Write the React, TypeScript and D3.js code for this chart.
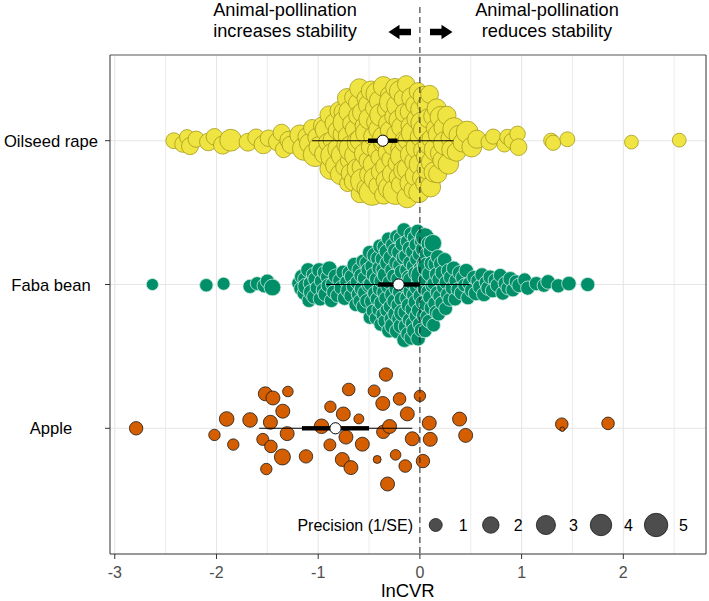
import React from "react";
import * as d3 from "d3";

// ---------------- data ----------------
const crops = ["Oilseed rape", "Faba bean", "Apple"];

// [lnCVR, precision (1/SE)]
const oilseedRape: [number, number][] = [
  [-2.42,1.8],[-2.33,2.0],[-2.29,1.5],[-2.26,2.2],[-2.20,1.9],[-2.08,2.4],[-2.02,2.0],[-1.94,2.6],[-1.86,4.2],[-1.69,2.5],[-1.61,2.1],[-1.54,2.7],[-1.49,2.0],[-1.40,2.6],[-1.36,2.2],[-1.34,2.0],[-1.29,2.4],[-1.27,2.3],
  [-1.18,3.4],[-1.14,4.8],[-1.11,2.6],
  [-1.09,3.0],[-1.06,2.2],[-1.03,5.2],[-1.01,2.8],
  [-0.99,3.6],[-0.96,2.4],[-0.94,3.1],[-0.92,4.4],[-0.905,2.7],
  [-0.895,2.5],[-0.88,3.8],[-0.87,2.1],[-0.85,6.2],[-0.84,2.9],[-0.83,3.3],[-0.815,2.4],[-0.80,4.0],
  [-0.795,2.6],[-0.78,3.5],[-0.77,2.2],[-0.76,4.6],[-0.75,3.0],[-0.74,2.5],[-0.735,5.4],[-0.725,2.8],[-0.715,3.2],[-0.71,1.9],[-0.70,3.7],
  [-0.695,2.4],[-0.69,4.1],[-0.68,3.0],[-0.67,2.6],[-0.665,6.8],[-0.655,2.3],[-0.645,3.4],[-0.64,2.9],[-0.63,4.5],[-0.62,2.1],[-0.615,3.6],[-0.61,2.7],[-0.60,5.0],
  [-0.595,3.1],[-0.59,2.4],[-0.58,4.2],[-0.575,2.8],[-0.565,3.3],[-0.56,5.8],[-0.55,2.5],[-0.54,3.9],[-0.535,2.2],[-0.525,3.0],[-0.52,4.7],[-0.51,2.6],[-0.505,3.5],[-0.50,2.9],
  [-0.495,4.0],[-0.485,2.7],[-0.48,3.2],[-0.47,6.4],[-0.465,2.5],[-0.455,3.8],[-0.45,2.3],[-0.44,4.4],[-0.43,3.0],[-0.425,2.6],[-0.415,5.1],[-0.41,2.8],[-0.405,3.4],[-0.40,2.1],
  [-0.395,3.7],[-0.385,2.9],[-0.38,4.8],[-0.37,2.4],[-0.36,3.3],[-0.355,2.7],[-0.345,5.6],[-0.34,3.1],[-0.33,2.5],[-0.325,4.1],[-0.315,2.8],[-0.31,3.6],[-0.305,2.2],[-0.30,4.3],
  [-0.295,3.0],[-0.285,2.6],[-0.28,5.3],[-0.27,3.4],[-0.26,2.3],[-0.255,3.9],[-0.245,2.8],[-0.24,6.0],[-0.23,3.2],[-0.225,2.5],[-0.215,4.6],[-0.21,2.9],[-0.205,3.5],[-0.20,2.4],
  [-0.195,4.0],[-0.19,2.7],[-0.18,3.3],[-0.17,5.5],[-0.165,2.5],[-0.155,3.8],[-0.15,2.9],[-0.14,4.4],[-0.135,2.3],[-0.125,3.6],[-0.12,3.0],[-0.11,4.9],[-0.105,2.6],[-0.10,3.2],
  [-0.095,2.8],[-0.085,4.2],[-0.08,3.4],[-0.07,2.4],[-0.065,5.2],[-0.055,3.0],[-0.05,2.6],[-0.04,3.9],[-0.035,2.9],[-0.025,4.6],[-0.02,2.3],[-0.01,3.5],[-0.005,2.7],[0.00,4.0],
  [0.005,3.1],[0.015,2.5],[0.02,4.4],[0.03,2.8],[0.035,3.6],[0.045,2.4],[0.05,5.0],[0.06,3.0],[0.065,2.6],[0.075,3.8],[0.08,2.9],[0.09,4.3],[0.095,2.5],
  [0.105,3.4],[0.11,2.7],[0.12,4.1],[0.13,2.9],[0.14,3.5],[0.15,2.4],[0.155,4.7],[0.165,3.0],[0.175,2.6],[0.185,3.7],[0.195,2.8],
  [0.205,4.0],[0.22,2.9],[0.235,3.3],[0.25,5.2],[0.265,2.7],[0.28,3.6],[0.295,2.5],
  [0.31,3.1],[0.335,4.5],[0.36,2.8],[0.385,3.4],
  [0.42,2.9],[0.465,4.2],
  [0.51,3.3],[0.56,2.6],
  [0.68,1.9],[0.72,1.6],[0.83,1.5],[0.86,1.6],[0.90,1.5],[0.96,1.7],[0.97,2.1],
  [1.29,1.5],[1.31,1.6],[1.45,1.5],[2.08,1.2],[2.55,1.2],
];

const fabaBean: [number, number][] = [
  [-2.63,0.8],[-2.10,1.1],[-1.93,1.0],[-1.67,1.3],[-1.60,1.2],[-1.53,1.4],[-1.50,1.3],[-1.45,2.1],
  [-1.19,1.3],[-1.17,1.3],[-1.16,1.5],[-1.14,1.2],[-1.13,1.4],[-1.12,2.0],[-1.10,1.4],
  [-1.09,1.3],[-1.08,1.2],[-1.07,1.6],[-1.05,1.2],[-1.04,1.5],[-1.03,1.4],[-1.01,1.3],
  [-0.99,1.5],[-0.98,1.3],[-0.97,1.2],[-0.95,1.3],[-0.94,1.2],[-0.93,1.4],[-0.91,1.2],
  [-0.90,1.4],[-0.89,1.6],[-0.87,1.3],[-0.86,1.2],[-0.85,1.2],[-0.83,1.4],[-0.81,1.3],
  [-0.79,1.2],[-0.77,1.5],[-0.755,1.3],[-0.74,1.4],[-0.72,1.2],[-0.705,1.6],
  [-0.695,1.3],[-0.68,1.2],[-0.67,1.5],[-0.655,1.3],[-0.64,1.7],[-0.63,1.2],[-0.615,1.4],[-0.605,1.3],
  [-0.595,1.5],[-0.59,1.2],[-0.58,1.3],[-0.57,1.6],[-0.56,1.2],[-0.555,1.4],[-0.545,1.3],[-0.535,1.8],[-0.525,1.2],[-0.52,1.4],[-0.51,1.3],[-0.50,1.5],
  [-0.495,1.3],[-0.49,1.2],[-0.48,1.6],[-0.475,1.3],[-0.47,1.4],[-0.46,1.2],[-0.455,1.5],[-0.445,1.3],[-0.44,2.0],[-0.43,1.2],[-0.425,1.4],[-0.42,1.3],[-0.41,1.6],[-0.405,1.2],[-0.40,1.4],
  [-0.397,1.3],[-0.39,1.5],[-0.385,1.2],[-0.38,1.4],[-0.375,1.7],[-0.37,1.3],[-0.365,1.2],[-0.36,1.5],[-0.355,1.3],[-0.35,1.4],[-0.345,1.2],[-0.34,1.9],[-0.335,1.3],[-0.33,1.4],[-0.325,1.2],[-0.32,1.6],[-0.315,1.3],[-0.31,1.2],[-0.303,1.5],
  [-0.298,1.4],[-0.293,1.2],[-0.288,1.6],[-0.283,1.3],[-0.278,1.2],[-0.273,1.5],[-0.268,1.3],[-0.263,2.2],[-0.258,1.2],[-0.253,1.4],[-0.248,1.3],[-0.243,1.5],[-0.238,1.2],[-0.233,1.4],[-0.228,1.3],[-0.223,1.7],[-0.218,1.2],[-0.213,1.4],[-0.208,1.3],[-0.204,1.5],[-0.200,1.2],
  [-0.198,1.4],[-0.192,1.3],[-0.188,1.6],[-0.183,1.2],[-0.179,1.5],[-0.174,1.3],[-0.17,2.4],[-0.166,1.2],[-0.161,1.4],[-0.157,1.3],[-0.152,1.6],[-0.148,1.2],[-0.144,1.4],[-0.139,1.3],[-0.135,1.8],[-0.131,1.2],[-0.126,1.5],[-0.122,1.3],[-0.117,1.4],[-0.113,1.2],[-0.109,1.6],[-0.104,1.3],[-0.101,1.4],
  [-0.097,1.3],[-0.093,1.5],[-0.089,1.2],[-0.085,1.4],[-0.08,2.6],[-0.076,1.3],[-0.072,1.2],[-0.068,1.6],[-0.064,1.3],[-0.06,1.4],[-0.056,1.2],[-0.051,1.9],[-0.047,1.3],[-0.043,1.5],[-0.039,1.2],[-0.035,1.4],[-0.031,1.3],[-0.027,1.7],[-0.022,1.2],[-0.018,1.4],[-0.014,1.3],[-0.01,1.5],[-0.006,1.2],[-0.002,1.4],
  [0.003,1.3],[0.007,1.6],[0.012,1.2],[0.016,1.4],[0.021,4.5],[0.025,1.3],[0.03,1.5],[0.034,1.2],[0.039,1.4],[0.043,1.3],[0.048,2.8],[0.052,1.2],[0.057,1.5],[0.061,1.3],[0.066,1.4],[0.07,1.2],[0.075,3.6],[0.079,1.3],[0.084,1.4],[0.088,1.2],[0.093,1.6],[0.097,1.3],
  [0.103,1.4],[0.109,1.2],[0.115,1.5],[0.121,1.3],[0.128,2.3],[0.134,1.2],[0.14,1.4],[0.147,1.3],[0.153,1.6],[0.159,1.2],[0.165,1.4],[0.172,1.3],[0.178,1.5],[0.184,1.2],[0.19,1.4],[0.196,1.3],
  [0.205,1.4],[0.215,1.2],[0.224,1.6],[0.234,1.3],[0.243,1.4],[0.253,1.2],[0.262,1.5],[0.272,1.3],[0.281,1.4],[0.292,1.2],
  [0.305,1.5],[0.318,1.3],[0.332,1.4],[0.346,1.2],[0.36,1.6],[0.375,1.3],[0.39,1.4],
  [0.408,1.3],[0.424,1.5],[0.44,1.2],[0.456,1.4],[0.472,1.3],[0.49,1.5],
  [0.51,1.4],[0.53,1.2],[0.55,1.5],[0.57,1.3],[0.59,1.4],
  [0.61,1.3],[0.63,1.5],[0.65,1.2],[0.67,1.4],[0.69,1.3],
  [0.715,1.4],[0.74,1.3],[0.765,1.5],[0.79,1.2],
  [0.815,1.3],[0.84,1.4],[0.865,1.2],[0.89,1.5],
  [0.915,1.3],[0.945,1.2],[0.975,1.4],
  [1.03,1.2],[1.06,1.3],
  [1.145,1.3],[1.22,1.2],[1.26,1.4],[1.36,1.3],[1.465,1.4],[1.65,1.3],
];

const apple: [number, number][] = [
  [-2.79,1.1],[-2.02,0.66],[-1.90,1.42],[-1.835,0.66],[-1.67,1.42],[-1.545,0.78],[-1.52,1.25],[-1.51,0.66],
  [-1.47,1.25],[-1.465,0.91],[-1.445,1.25],[-1.352,1.84],[-1.348,1.25],[-1.305,1.25],[-1.298,0.51],[-1.12,1.1],
  [-0.967,1.42],[-0.885,0.78],[-0.88,0.66],[-0.763,1.25],[-0.753,1.25],[-0.727,1.25],[-0.70,0.91],[-0.678,1.25],
  [-0.60,0.41],[-0.566,1.25],[-0.45,0.78],[-0.42,0.16],[-0.365,1.25],[-0.36,1.1],[-0.334,1.1],[-0.318,1.25],
  [-0.298,1.25],[-0.239,0.51],[-0.20,0.91],[-0.144,0.91],[-0.124,1.25],[-0.075,1.25],[0.0,0.66],[0.03,1.1],
  [0.092,1.25],[0.102,1.25],[0.39,1.25],[0.45,1.25],[1.395,0.91],[1.40,0.0],[1.85,0.91],
];

// meta-analytic estimate, thick and thin intervals
const summaryMean = [-0.365, -0.21, -0.83];
const summaryInnerLow = [-0.51, -0.41, -1.16];
const summaryInnerHigh = [-0.22, 0.0, -0.5];
const summaryOuterLow = [-1.06, -0.92, -1.58];
const summaryOuterHigh = [0.33, 0.49, -0.075];

const xTicks = [-3, -2, -1, 0, 1, 2];
const xMinorTicks = [-2.5, -1.5, -0.5, 0.5, 1.5, 2.5];
const legendBreaks = [1, 2, 3, 4, 5];

// ---------------- styles ----------------
const FONT = "'Liberation Sans', Arial, Helvetica, sans-serif";
const fills = ["#F0E442", "#008F68", "#D55E00"];
const strokes = ["#A39A1E", "#CDEBDF", "#1a1a1a"];

// ---------------- quasirandom (ggbeeswarm-like) ----------------
function vanDerCorput(n: number): number[] {
  const out: number[] = [];
  for (let i = 1; i <= n; i++) {
    let k = i, denom = 1, v = 0;
    while (k > 0) { denom *= 2; v += (k % 2) / denom; k = Math.floor(k / 2); }
    out.push(v);
  }
  return out;
}

function quasirandomOffsets(values: number[], width: number): number[] {
  const n = values.length;
  const sorted = values.slice().sort((a, b) => a - b);
  const sd = d3.deviation(values) ?? 1;
  const iqr = (d3.quantileSorted(sorted, 0.75) ?? 0) - (d3.quantileSorted(sorted, 0.25) ?? 0);
  let lo = Math.min(sd, iqr / 1.34);
  if (!(lo > 0)) lo = sd > 0 ? sd : 1;
  const bw = 0.9 * lo * Math.pow(n, -0.2) * 0.5;
  const dens = (x: number) => {
    let s = 0;
    for (const v of values) { const z = (x - v) / bw; s += Math.exp(-0.5 * z * z); }
    return s;
  };
  const gMin = sorted[0] - 3 * bw, gMax = sorted[n - 1] + 3 * bw;
  let maxD = 0;
  for (let i = 0; i < 512; i++) maxD = Math.max(maxD, dens(gMin + ((gMax - gMin) * i) / 511));
  const order = d3.range(n).sort((a, b) => values[a] - values[b] || a - b);
  const rank: number[] = new Array(n);
  order.forEach((idx, r) => { rank[idx] = r; });
  const vdc = vanDerCorput(n);
  return values.map((v, i) => (vdc[rank[i]] - 0.5) * 2 * (dens(v) / maxD) * width);
}

// ---------------- component ----------------
export default function App() {
  const W = 709, H = 601;
  const P = { left: 110, right: 706, top: 55, bottom: 554 };
  const x = d3.scaleLinear().domain([-3.047, 2.813]).range([P.left, P.right]);
  const y = d3.scalePoint<string>().domain(crops).range([140.7, 428.3]);
  const size = d3.scaleSqrt().domain([0, 5]).range([2.3, 11.7]);
  const halfWidth = 0.4 * y.step();
  const series = [oilseedRape, fabaBean, apple];

  const pts = series.map((s, i) => {
    const vals = s.map((d) => d[0]);
    const off = quasirandomOffsets(vals, halfWidth);
    return s.map((d, j) => ({ cx: x(d[0]), cy: (y(crops[i]) as number) - off[j], r: size(d[1]) }));
  });

  const legendY = 525;
  const legendStart = 435.7;
  const legendStep = 55.1;

  const arrowY = 32;
  const leftArrow = `M388.5,${arrowY} L399.5,${arrowY - 7.3} L399.5,${arrowY - 3.3} L411,${arrowY - 3.3} L411,${arrowY + 3.3} L399.5,${arrowY + 3.3} L399.5,${arrowY + 7.3} Z`;
  const rightArrow = `M452.5,${arrowY} L441.5,${arrowY - 7.3} L441.5,${arrowY - 3.3} L430,${arrowY - 3.3} L430,${arrowY + 3.3} L441.5,${arrowY + 3.3} L441.5,${arrowY + 7.3} Z`;

  return (
    <svg width={W} height={H} style={{ position: "absolute", left: 0, top: 0, background: "#fff" }} fontFamily={FONT}>
      <rect x={0} y={0} width={W} height={H} fill="#fff" />
      {/* grid */}
      {xMinorTicks.map((t) => (
        <line key={"m" + t} x1={x(t)} x2={x(t)} y1={P.top} y2={P.bottom} stroke="#ececec" strokeWidth={1} />
      ))}
      {xTicks.map((t) => (
        <line key={"g" + t} x1={x(t)} x2={x(t)} y1={P.top} y2={P.bottom} stroke="#e6e6e6" strokeWidth={1.1} />
      ))}
      {crops.map((c) => (
        <line key={"h" + c} x1={P.left} x2={P.right} y1={y(c)} y2={y(c)} stroke="#e6e6e6" strokeWidth={1.1} />
      ))}

      {/* points */}
      {pts.map((arr, i) => (
        <g key={"s" + i} fill={fills[i]} stroke={strokes[i]} strokeWidth={0.8}>
          {arr.map((p, j) => (
            <circle key={j} cx={p.cx} cy={p.cy} r={p.r} />
          ))}
        </g>
      ))}

      {/* zero line */}
      <line x1={x(0)} x2={x(0)} y1={7} y2={P.bottom} stroke="#222" strokeWidth={1} strokeDasharray="6,4" />

      {/* summaries */}
      {crops.map((c, i) => {
        const cy = y(c) as number;
        return (
          <g key={"sum" + i}>
            <line x1={x(summaryOuterLow[i])} x2={x(summaryOuterHigh[i])} y1={cy} y2={cy} stroke="#000" strokeWidth={1.1} />
            <rect x={x(summaryInnerLow[i])} y={cy - 2.2} width={x(summaryInnerHigh[i]) - x(summaryInnerLow[i])} height={4.4} fill="#000" />
            <circle cx={x(summaryMean[i])} cy={cy} r={5.6} fill="#fff" stroke="#000" strokeWidth={1} />
          </g>
        );
      })}

      {/* panel border */}
      <line x1={P.left} x2={P.right} y1={P.top} y2={P.top} stroke="#8c8c8c" strokeWidth={1.6} />
      <line x1={P.left} x2={P.left} y1={P.top} y2={P.bottom} stroke="#333" strokeWidth={1} />
      <line x1={P.right} x2={P.right} y1={P.top} y2={P.bottom} stroke="#333" strokeWidth={1} />
      <line x1={P.left} x2={P.right} y1={P.bottom} y2={P.bottom} stroke="#333" strokeWidth={1} />

      {/* x axis */}
      {xTicks.map((t) => (
        <g key={"xt" + t}>
          <line x1={x(t)} x2={x(t)} y1={P.bottom} y2={P.bottom + 5} stroke="#333" strokeWidth={1} />
          <text x={x(t)} y={577.5} textAnchor="middle" fontSize={16} fill="#4d4d4d">{String(t)}</text>
        </g>
      ))}
      <text x={(P.left + P.right) / 2} y={596.5} textAnchor="middle" fontSize={18.5} fill="#000">lnCVR</text>

      {/* y axis */}
      {crops.map((c) => (
        <g key={"yt" + c}>
          <line x1={P.left - 5} x2={P.left} y1={y(c)} y2={y(c)} stroke="#333" strokeWidth={1} />
          <text x={51} y={(y(c) as number) + 6} textAnchor="middle" fontSize={16.6} fill="#000">{c}</text>
        </g>
      ))}

      {/* header */}
      <g fontSize={18.2} fill="#000" textAnchor="middle">
        <text x={285} y={16}>Animal-pollination</text>
        <text x={285} y={36.5}>increases stability</text>
        <text x={547} y={16}>Animal-pollination</text>
        <text x={547} y={36.5}>reduces stability</text>
      </g>
      <path d={leftArrow} fill="#000" />
      <path d={rightArrow} fill="#000" />

      {/* legend */}
      <text x={413} y={531} textAnchor="end" fontSize={16} fill="#000">Precision (1/SE)</text>
      {legendBreaks.map((b, i) => {
        const cx = legendStart + i * legendStep;
        return (
          <g key={"lg" + b}>
            <circle cx={cx} cy={legendY} r={size(b)} fill="#4d4d4d" stroke="#1a1a1a" strokeWidth={0.8} />
            <text x={cx + 23} y={531} fontSize={16} fill="#000">{String(b)}</text>
          </g>
        );
      })}
    </svg>
  );
}
